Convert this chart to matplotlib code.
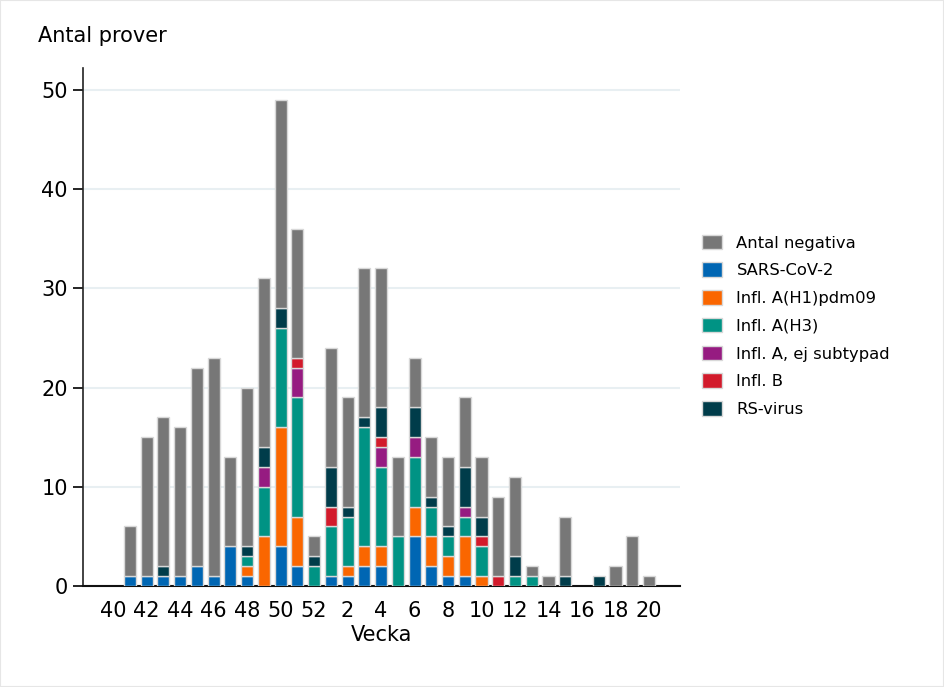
import matplotlib
matplotlib.use("Agg")
import matplotlib.pyplot as plt
import numpy as np

weeks = [40, 41, 42, 43, 44, 45, 46, 47, 48, 49, 50, 51, 52,
         1, 2, 3, 4, 5, 6, 7, 8, 9, 10, 11, 12, 13, 14, 15, 16, 17, 18, 19, 20]

sars = [0, 1, 1, 1, 1, 2, 1, 4, 1, 0, 4, 2, 0,
        1, 1, 2, 2, 0, 5, 2, 1, 1, 0, 0, 0, 0, 0, 0, 0, 0, 0, 0, 0]
h1 = [0, 0, 0, 0, 0, 0, 0, 0, 1, 5, 12, 5, 0,
      0, 1, 2, 2, 0, 3, 3, 2, 4, 1, 0, 0, 0, 0, 0, 0, 0, 0, 0, 0]
h3 = [0, 0, 0, 0, 0, 0, 0, 0, 1, 5, 10, 12, 2,
      5, 5, 12, 8, 5, 5, 3, 2, 2, 3, 0, 1, 1, 0, 0, 0, 0, 0, 0, 0]
a_ej = [0, 0, 0, 0, 0, 0, 0, 0, 0, 2, 0, 3, 0,
        0, 0, 0, 2, 0, 2, 0, 0, 1, 0, 0, 0, 0, 0, 0, 0, 0, 0, 0, 0]
infl_b = [0, 0, 0, 0, 0, 0, 0, 0, 0, 0, 0, 1, 0,
          2, 0, 0, 1, 0, 0, 0, 0, 0, 1, 1, 0, 0, 0, 0, 0, 0, 0, 0, 0]
rsv = [0, 0, 0, 1, 0, 0, 0, 0, 1, 2, 2, 0, 1,
       4, 1, 1, 3, 0, 3, 1, 1, 4, 2, 0, 2, 0, 0, 1, 0, 1, 0, 0, 0]
totals = [0, 6, 15, 17, 16, 22, 23, 13, 20, 31, 49, 36, 5,
          24, 19, 32, 32, 13, 23, 15, 13, 19, 13, 9, 11, 2, 1, 7, 0, 1, 2, 5, 1]

series_names = ["SARS-CoV-2", "Infl. A(H1)pdm09", "Infl. A(H3)",
                "Infl. A, ej subtypad", "Infl. B", "RS-virus"]
series_vals = [sars, h1, h3, a_ej, infl_b, rsv]
series_colors = ["#0066b3", "#fa6600", "#009384", "#961b81", "#d21a2b", "#003c4a"]
neg_color = "#777777"

fig = plt.figure(figsize=(9.44, 6.87), dpi=100)
ax = fig.add_axes([0.0879, 0.147, 0.7325 - 0.0879 - 0.0122, 0.754])

x = np.arange(len(weeks))
width = 0.72
edge = "#d8d8d8"
bottom = np.zeros(len(weeks))
handles = {}


def draw(vals, bottom, col):
    v = np.array(vals, dtype=float)
    m = v > 0
    b = ax.bar(x[m], v[m], width, bottom=bottom[m], color=col, edgecolor=edge,
               linewidth=1.0, zorder=3)
    return v, b


for name, vals, col in zip(series_names, series_vals, series_colors):
    v, b = draw(vals, bottom, col)
    handles[name] = b
    bottom = bottom + v
neg = np.array(totals, dtype=float) - bottom
_, bn = draw(neg, bottom, neg_color)
handles["Antal negativa"] = bn

ax.set_xlim(-1.8, 33.85)
ax.set_ylim(0, 52.2)
ax.set_yticks([0, 10, 20, 30, 40, 50])
ax.yaxis.grid(True, color="#e8eff2", linewidth=1.5, zorder=0)
ax.set_axisbelow(True)
ax.set_xticks(x[::2])
ax.set_xticklabels([str(w) for w in weeks[::2]])
ax.tick_params(axis="x", length=0, labelsize=15, pad=11)
ax.tick_params(axis="y", length=7, width=1.2, labelsize=15, pad=4)
for s in ["top", "right"]:
    ax.spines[s].set_visible(False)
ax.spines["left"].set_color("#222222")
ax.spines["bottom"].set_color("#111111")
ax.spines["left"].set_linewidth(1.2)
ax.spines["bottom"].set_linewidth(1.5)
ax.set_xlabel("Vecka", fontsize=15, labelpad=3)

fig.text(0.040, 0.947, "Antal prover", fontsize=15, ha="left", va="center")

order = ["Antal negativa"] + series_names
leg = fig.legend([handles[n] for n in order], order, loc="upper left",
                 bbox_to_anchor=(0.728, 0.68), frameon=False, fontsize=11.8,
                 handlelength=1.2, handleheight=1.0, labelspacing=0.72,
                 handletextpad=0.9)

fig.patches.append(plt.Rectangle((0, 0), 1, 1, transform=fig.transFigure,
                                 fill=False, edgecolor="#e6e6e6", linewidth=1.5))
fig.savefig("out.png", dpi=100)
